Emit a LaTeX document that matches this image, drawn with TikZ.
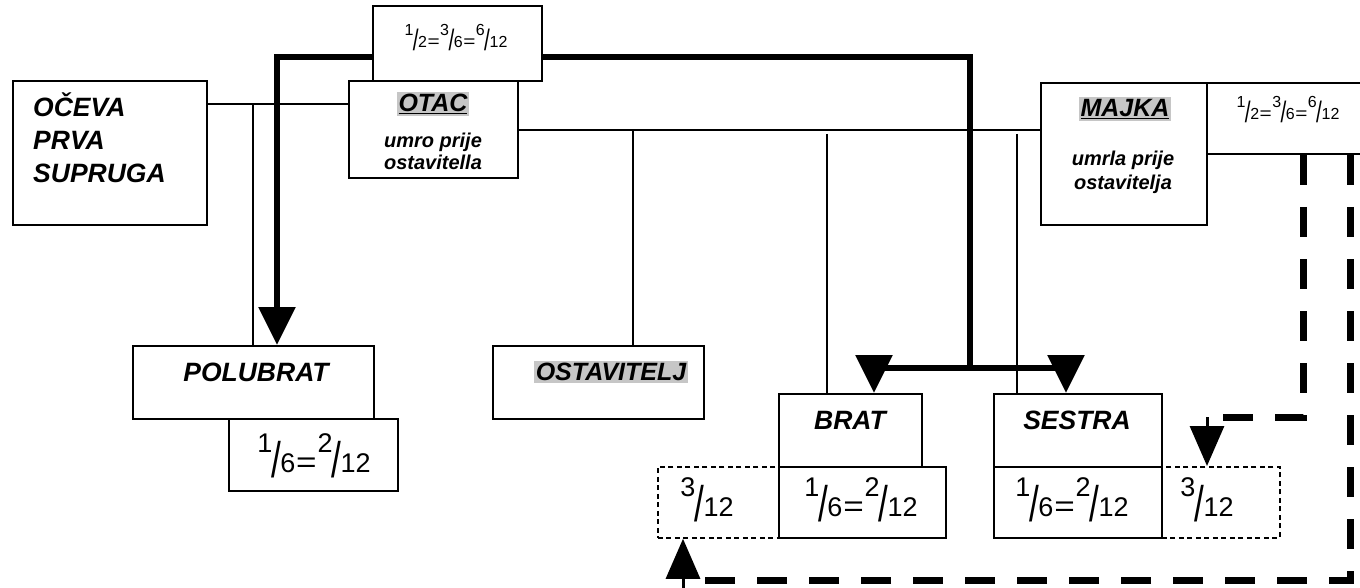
\documentclass[tikz,border=0pt]{standalone}
\usepackage{fontspec}
\setmainfont{Liberation Sans}
\usepackage{graphicx}
\usetikzlibrary{arrows.meta}
\newcommand\frc[2]{\raisebox{0.74em}{#1}\kern-0.04em\raisebox{-0.2em}{\scalebox{1.3}[1.85]{/}}\kern-0.02em#2}
\newcommand\eqs{\kern0.03em\scalebox{1.3}[1.1]{=}\kern0.03em}
\newcommand\hlt[1]{{\setlength\fboxsep{2pt}\colorbox{gray!45}{#1}}}
\begin{document}
\begin{tikzpicture}[x=1pt,y=-1pt,
  box/.style={draw, line width=1.6pt, inner sep=0pt, fill=white, anchor=north west},
  dotbox/.style={box, dash pattern=on 5pt off 3.5pt, line width=1.8pt},
  lbl/.style={font=\fontsize{26.5}{33}\selectfont\bfseries\itshape, inner sep=0pt},
  small/.style={font=\fontsize{20}{22}\selectfont\bfseries\itshape, inner sep=0pt, align=center},
  frbig/.style={font=\fontsize{27}{29}\selectfont, inner sep=0pt},
  frsmall/.style={font=\fontsize{16}{18}\selectfont, inner sep=0pt},
  thinln/.style={line width=1.5pt},
  thk/.style={line width=6pt},
  dsh/.style={line width=7pt, dash pattern=on 30pt off 22pt},
  Tri/.tip={Triangle[width=36pt,length=38pt]}
]
\clip (0,0) rectangle (1360,588);
\fill[white] (0,0) rectangle (1360,588);

% thin connectors
\coordinate (h1a) at (206,104);
\coordinate (h1b) at (348,104);
\coordinate (v1t) at (253,104);
\coordinate (v1b) at (253,345);
\coordinate (h2a) at (517,130);
\coordinate (h2b) at (1040,130);
\coordinate (v2t) at (633,130);
\coordinate (v2b) at (633,345);
\coordinate (v3t) at (827,134);
\coordinate (v3b) at (827,393);
\coordinate (v4t) at (1017,134);
\coordinate (v4b) at (1017,393);
\draw[thinln] (h1a) -- (h1b);
\draw[thinln] (v1t) -- (v1b);
\draw[thinln] (h2a) -- (h2b);
\draw[thinln] (v2t) -- (v2b);
\draw[thinln] (v3t) -- (v3b);
\draw[thinln] (v4t) -- (v4b);

% thick connectors
\coordinate (t1) at (277,345);
\coordinate (t2) at (277,57);
\coordinate (t3) at (970,57);
\coordinate (t4) at (970,368);
\coordinate (tb) at (874,393);
\coordinate (ts) at (1066,393);
\draw[thk,-Tri,line join=miter] (t4) -- (t3) -- (t2) -- (t1);
\draw[thk,-Tri,line join=miter] (t4) -| (tb);
\draw[thk,-Tri,line join=miter] (t4) -| (ts);

% boxes
\node[box, minimum width=169pt, minimum height=75pt] (frtop) at (372,5) {};
\node[frsmall] (frtoptx) at (456,38) {\frc{1}{2}\eqs\frc{3}{6}\eqs\frc{6}{12}};
\node[box, minimum width=169pt, minimum height=97pt] (otac) at (348,80) {};
\node[lbl, font=\fontsize{25}{28}\selectfont\bfseries\itshape] (otactx) at (433,104) {\hlt{\underline{OTAC}}};
\node[small] (otacsub) at (433,151) {umro prije\\ostavitella};
\node[box, minimum width=194pt, minimum height=144pt] (oceva) at (12,80) {};
\node[lbl, anchor=west, align=left] (ocevatx) at (33,138) {OČEVA\\PRVA\\SUPRUGA};

\node[box, minimum width=166pt, minimum height=142pt] (majka) at (1040,82) {};
\node[lbl, font=\fontsize{25}{28}\selectfont\bfseries\itshape] (majkatx) at (1125,109) {\hlt{\underline{MAJKA}}};
\node[small, font=\fontsize{20}{24}\selectfont\bfseries\itshape] (majkasub) at (1123,172) {umrla prije\\ostavitelja};
\node[box, minimum width=170pt, minimum height=71pt] (majkafr) at (1206,82) {};
\node[frsmall] (majkafrtx) at (1288,110) {\frc{1}{2}\eqs\frc{3}{6}\eqs\frc{6}{12}};

\node[box, minimum width=241pt, minimum height=73pt] (polubrat) at (132,345) {};
\node[lbl] (polubrattx) at (256,372) {POLUBRAT};
\node[box, minimum width=169pt, minimum height=72pt] (polufr) at (228,418) {};
\node[frbig] (polufrtx) at (314,456) {\frc{1}{6}\eqs\frc{2}{12}};

\node[box, minimum width=211pt, minimum height=73pt] (ostav) at (492,345) {};
\node[lbl, font=\fontsize{25}{28}\selectfont\bfseries\itshape] (ostavtx) at (611,372) {\hlt{OSTAVITELJ}};

\node[box, minimum width=143pt, minimum height=73pt] (brat) at (778,393) {};
\node[lbl] (brattx) at (850,420) {BRAT};
\node[dotbox, minimum width=121pt, minimum height=71pt] (bratdot) at (657,466) {};
\node[frbig] (bratdottx) at (707,500) {\frc{3}{12}};
\node[box, minimum width=167pt, minimum height=71pt] (bratfr) at (778,466) {};
\node[frbig] (bratfrtx) at (861,500) {\frc{1}{6}\eqs\frc{2}{12}};

\node[box, minimum width=168pt, minimum height=73pt] (sestra) at (993,393) {};
\node[lbl] (sestratx) at (1077,420) {SESTRA};
\node[dotbox, minimum width=118pt, minimum height=71pt] (sestradot) at (1161,466) {};
\node[frbig] (sestradottx) at (1207,500) {\frc{3}{12}};
\node[box, minimum width=168pt, minimum height=71pt] (sestrafr) at (993,466) {};
\node[frbig] (sestrafrtx) at (1072,500) {\frc{1}{6}\eqs\frc{2}{12}};

% dashed connectors
\coordinate (d1a) at (1303,155);
\coordinate (d1b) at (1215,417);
\coordinate (d1c) at (1207,417);
\draw[dsh] (d1a) |- (d1b);
\draw[line width=3pt,-{Triangle[width=34pt,length=40pt]}] (d1c) -- (sestradot.north -| d1c);
\coordinate (d2a) at (1350,155);
\coordinate (d2b) at (700,580);
\coordinate (d2c) at (683,592);
\draw[dsh] (d2a) |- (d2b);
\draw[line width=3pt,-{Triangle[width=34pt,length=40pt]}] (d2c) -- (bratdot.south -| d2c);
\end{tikzpicture}
\end{document}
